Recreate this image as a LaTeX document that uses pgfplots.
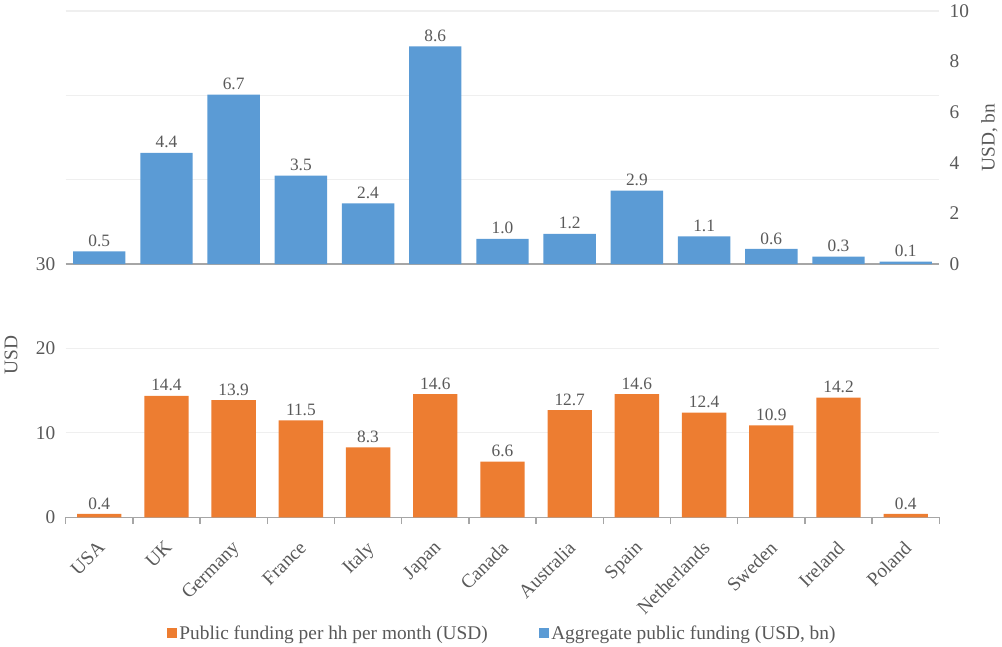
\documentclass[border=0pt]{standalone}
\usepackage{pgfplots}
\pgfplotsset{compat=1.18}
\usepackage{fontspec}
\setmainfont{Liberation Serif}

\definecolor{barblue}{HTML}{5B9BD5}
\definecolor{barorange}{HTML}{ED7D31}
\definecolor{axisgray}{HTML}{A6A6A6}
\definecolor{txtgray}{HTML}{595959}
\definecolor{gridgray}{HTML}{EFEFEF}

% public funding per household per month (USD)
\pgfplotstableread{
idx val
0  0.4
1  14.4
2  13.9
3  11.5
4  8.3
5  14.6
6  6.6
7  12.7
8  14.6
9  12.4
10 10.9
11 14.2
12 0.4
}\perhh

% aggregate public funding (USD, bn)
\pgfplotstableread{
idx val
0  0.5
1  4.4
2  6.7
3  3.5
4  2.4
5  8.6
6  1.0
7  1.2
8  2.9
9  1.1
10 0.6
11 0.3
12 0.1
}\aggr

\begin{document}
\begin{tikzpicture}
\pgfplotsset{
  common/.style={
    scale only axis, width=654.75pt, height=379.5pt,
    xmin=-0.5, xmax=12.5,
    ybar,
    /pgf/number format/assume math mode=true,
    tick label style={font=\fontsize{14.5}{16}\selectfont, text=txtgray},
    label style={font=\fontsize{14.5}{16}\selectfont, text=txtgray},
    nodes near coords={\pgfmathprintnumber[fixed,fixed zerofill,precision=1,assume math mode=true]{\pgfplotspointmeta}},
    every node near coord/.append style={font=\fontsize{13}{15}\selectfont, text=txtgray},
    y axis line style={draw=none},
    ytick style={draw=none},
    major x tick style={draw=none},
    minor xtick={-0.5,0.5,...,12.5},
    minor x tick style={draw=axisgray, line width=1pt},
    minor tick length=5pt,
    tick align=outside,
    x axis line style={axisgray, line width=1.2pt},
  }
}
\begin{axis}[common,
  bar width=0.66,
  ymin=0, ymax=60,
  ytick={0,10,...,60},
  yticklabels={0,10,20,30,,,},
  ymajorgrids, grid style={gridgray, line width=0.8pt},
  axis y line*=left,
  axis x line*=bottom,
  xtick={0,...,12},
  xticklabels={USA,UK,Germany,France,Italy,Japan,Canada,Australia,Spain,Netherlands,Sweden,Ireland,Poland},
  % shifts are in the rotated frame
  xticklabel style={rotate=45, anchor=north east, inner sep=1pt, xshift=-9.2pt, yshift=-6.4pt},
  ylabel={USD},
  ylabel style={at={([xshift=-41pt]rel axis cs:0,0.32)}, anchor=center},
]
\addplot[fill=barorange, draw=none] table[x=idx, y=val] {\perhh};
\end{axis}

\begin{axis}[common,
  bar width=0.78,
  ymin=-10, ymax=10,
  ytick={0,2,...,10},
  axis y line*=right,
  axis x line*=middle,
  xtick=\empty,
  ylabel={USD, bn},
  ylabel style={at={([xshift=37.5pt]rel axis cs:1,0.75)}, anchor=center},
  legend style={draw=none, at={(0.5,-0.229)}, anchor=center,
    legend columns=-1, font=\fontsize{14.5}{16}\selectfont, text=txtgray,
    /tikz/every even column/.append style={column sep=36pt}},
  legend image code/.code={\fill[#1] (0pt,-3.6pt) rectangle (7.5pt,3.9pt);},
]
\addlegendimage{fill=barorange, draw=none}
\addlegendentry{Public funding per hh per month (USD)}
\addplot[fill=barblue, draw=none] table[x=idx, y=val] {\aggr};
\addlegendentry{Aggregate public funding (USD, bn)}
\end{axis}
\end{tikzpicture}
\end{document}
